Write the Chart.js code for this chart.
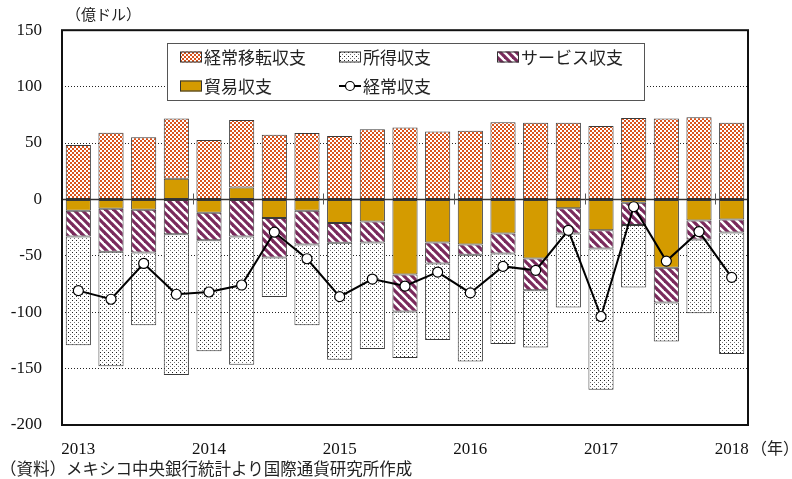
<!DOCTYPE html>
<html lang="ja">
<head>
<meta charset="utf-8">
<script src="https://cdn.jsdelivr.net/npm/chart.js@4.4.1/dist/chart.umd.min.js"></script>
<style>
  html, body { margin: 0; padding: 0; background: #fff; }
  #wrap { position: relative; width: 792px; height: 479px; }
  .txt { position: absolute; font-family: "Noto Sans CJK JP", sans-serif; color: #222; white-space: nowrap; }
  #unidad { left: 66px; top: 3px; font-size: 15px; }
  #anio { left: 751px; top: 435px; font-size: 16px; }
  #fuente { left: 0px; top: 456px; font-size: 16.5px; }
</style>
</head>
<body>
<div id="wrap">
  <canvas id="grafico" width="792" height="479"></canvas>
  <div class="txt" id="unidad">（億ドル）</div>
  <div class="txt" id="anio">（年）</div>
  <div class="txt" id="fuente">（資料）メキシコ中央銀行統計より国際通貨研究所作成</div>
</div>
<script>
// datos (億ドル), 2013Q1 - 2018Q1
const categorias = ['2013','','','','2014','','','','2015','','','','2016','','','','2017','','','','2018'];
const yTicks = [150, 100, 50, 0, -50, -100, -150, -200];

const transferencias = [48.2, 59.1, 55.0, 53.6, 52.6, 59.7, 57.4, 58.8, 56.2, 62.1, 63.8, 60.3, 60.9, 68.5, 67.9, 67.9, 65.0, 72.1, 71.8, 72.9, 67.9];
const renta = [-96.4, -101.5, -64.4, -124.7, -98.5, -113.6, -35.0, -71.5, -103.6, -94.4, -41.2, -67.9, -94.7, -80.3, -50.6, -65.6, -125.3, -55.6, -34.4, -65.3, -107.7];
const servicios = [-23.0, -38.3, -38.0, -30.9, -24.4, -32.9, -35.0, -30.0, -17.6, -18.5, -32.9, -18.6, -9.1, -17.6, -28.2, -22.4, -16.1, -19.7, -30.9, -16.8, -11.5];
const comercio = [-10.0, -8.2, -9.1, 18.2, -11.8, 10.6, -16.5, -10.0, -20.9, -19.7, -66.5, -38.2, -40.0, -30.3, -52.4, -7.9, -27.4, -2.9, -60.6, -18.8, -17.9];
const cuentaCorriente = [-80.9, -88.5, -56.8, -84.1, -82.1, -75.9, -29.1, -52.6, -86.2, -70.6, -76.8, -64.4, -82.9, -59.4, -62.9, -27.4, -103.8, -6.5, -54.7, -28.5, -69.1];

// ---- patrones de relleno ----
function tile(size, draw) {
    const c = document.createElement('canvas');
    c.width = size; c.height = size;
    const g = c.getContext('2d');
    g.fillStyle = '#fff';
    g.fillRect(0, 0, size, size);
    draw(g);
    return document.getElementById('grafico').getContext('2d').createPattern(c, 'repeat');
}

const patCheck = tile(4, g => {
    g.fillStyle = '#d9531c';
    g.fillRect(0, 0, 2, 2);
    g.fillRect(2, 2, 2, 2);
});

const patStripe = tile(8, g => {
    g.strokeStyle = '#7a2a5c';
    g.lineWidth = 3.2;
    for (let x = -8; x <= 8; x += 8) {
        g.beginPath();
        g.moveTo(x - 1, -1);
        g.lineTo(x + 9, 9);
        g.stroke();
    }
});

const patDots = tile(4, g => {
    g.fillStyle = '#222';
    g.fillRect(0, 0, 1, 1);
    g.fillStyle = '#777';
    g.fillRect(2, 2, 1, 1);
});

const colorComercio = '#d49b00';

// ---- leyenda propia (dentro del area del grafico) ----
const leyenda = [
    { text: '経常移転収支', fill: patCheck, col: 0, row: 0 },
    { text: '所得収支', fill: patDots, col: 1, row: 0 },
    { text: 'サービス収支', fill: patStripe, col: 2, row: 0 },
    { text: '貿易収支', fill: colorComercio, col: 0, row: 1 },
    { text: '経常収支', line: true, col: 1, row: 1 }
];

const marcoPlugin = {
    id: 'marco',
    afterDatasetsDraw(chart) {
        const { ctx, chartArea: a, scales: { x, y } } = chart;
        ctx.save();

        // linea de cero y marcas de año
        const y0 = Math.round(y.getPixelForValue(0)) + 0.5;
        ctx.strokeStyle = '#333';
        ctx.lineWidth = 1.3;
        ctx.beginPath();
        ctx.moveTo(a.left, y0);
        ctx.lineTo(a.right, y0);
        ctx.stroke();
        ctx.lineWidth = 1;
        ctx.strokeStyle = '#555';
        for (let i = 4; i < categorias.length; i += 4) {
            const xm = Math.round((x.getPixelForValue(i - 1) + x.getPixelForValue(i)) / 2) + 0.5;
            ctx.beginPath();
            ctx.moveTo(xm, y0 - 6);
            ctx.lineTo(xm, y0 + 5);
            ctx.stroke();
        }

        // marco
        ctx.strokeStyle = '#111';
        ctx.lineWidth = 2;
        ctx.strokeRect(a.left, a.top, a.right - a.left, a.bottom - a.top);

        // caja de leyenda
        const bx = 167, by = 43, bw = 477, bh = 57;
        ctx.fillStyle = '#fff';
        ctx.fillRect(bx, by, bw, bh);
        ctx.strokeStyle = '#555';
        ctx.lineWidth = 1;
        ctx.strokeRect(bx + 0.5, by + 0.5, bw, bh);

        const colX = [180, 339, 497];
        const rowY = [57, 86];
        ctx.font = '17px "Noto Sans CJK JP"';
        ctx.textBaseline = 'middle';
        leyenda.forEach(it => {
            const lx = colX[it.col], ly = rowY[it.row];
            if (it.line) {
                ctx.strokeStyle = '#000';
                ctx.lineWidth = 2;
                ctx.beginPath();
                ctx.moveTo(lx, ly);
                ctx.lineTo(lx + 22, ly);
                ctx.stroke();
                ctx.beginPath();
                ctx.arc(lx + 11, ly, 4.5, 0, Math.PI * 2);
                ctx.fillStyle = '#fff';
                ctx.fill();
                ctx.lineWidth = 1.2;
                ctx.stroke();
            } else {
                ctx.fillStyle = it.fill;
                ctx.fillRect(lx, ly - 5.5, 22, 11);
                ctx.strokeStyle = '#333';
                ctx.lineWidth = 1;
                ctx.strokeRect(lx + 0.5, ly - 5, 21, 10);
            }
            ctx.fillStyle = '#222';
            ctx.fillText(it.text, lx + 24, ly + 1);
        });
        ctx.restore();
    }
};

const barraBase = {
    type: 'bar',
    borderColor: '#3a3a3a',
    borderWidth: 1,
    borderSkipped: false,
    barPercentage: 0.77,
    categoryPercentage: 1,
    stack: 'cc',
    order: 1
};

new Chart(document.getElementById('grafico'), {
    data: {
        labels: categorias,
        datasets: [
            { ...barraBase, label: '貿易収支', data: comercio, backgroundColor: colorComercio },
            { ...barraBase, label: 'サービス収支', data: servicios, backgroundColor: patStripe },
            { ...barraBase, label: '所得収支', data: renta, backgroundColor: patDots },
            { ...barraBase, label: '経常移転収支', data: transferencias, backgroundColor: patCheck },
            {
                type: 'line',
                label: '経常収支',
                data: cuentaCorriente,
                stack: 'linea',
                order: 0,
                borderColor: '#000',
                borderWidth: 2,
                tension: 0,
                pointRadius: 5,
                pointBackgroundColor: '#fff',
                pointBorderColor: '#000',
                pointBorderWidth: 1.2
            }
        ]
    },
    options: {
        responsive: false,
        animation: false,
        devicePixelRatio: 1,
        layout: { padding: { top: 28, right: 44, left: 0, bottom: 0 } },
        plugins: {
            legend: { display: false },
            tooltip: { enabled: false }
        },
        scales: {
            x: {
                stacked: true,
                grid: { display: false },
                border: { display: false },
                ticks: {
                    autoSkip: false,
                    maxRotation: 0,
                    padding: 6,
                    color: '#111',
                    font: { family: '"Liberation Serif", serif', size: 17 }
                },
                afterFit(scale) { scale.height = 54; }
            },
            y: {
                stacked: true,
                min: -200,
                max: 150,
                afterBuildTicks(scale) { scale.ticks = yTicks.map(v => ({ value: v })); },
                grid: {
                    drawTicks: false,
                    lineWidth: 1,
                    color: ctx => (ctx.tick && [0, 150, -200].includes(ctx.tick.value)) ? 'rgba(0,0,0,0)' : '#222'
                },
                border: { display: false, dash: [1, 2] },
                ticks: {
                    padding: 20,
                    color: '#111',
                    font: { family: '"Liberation Serif", serif', size: 17 }
                },
                afterFit(scale) { scale.width = 62; }
            }
        }
    },
    plugins: [marcoPlugin]
});
</script>
</body>
</html>
